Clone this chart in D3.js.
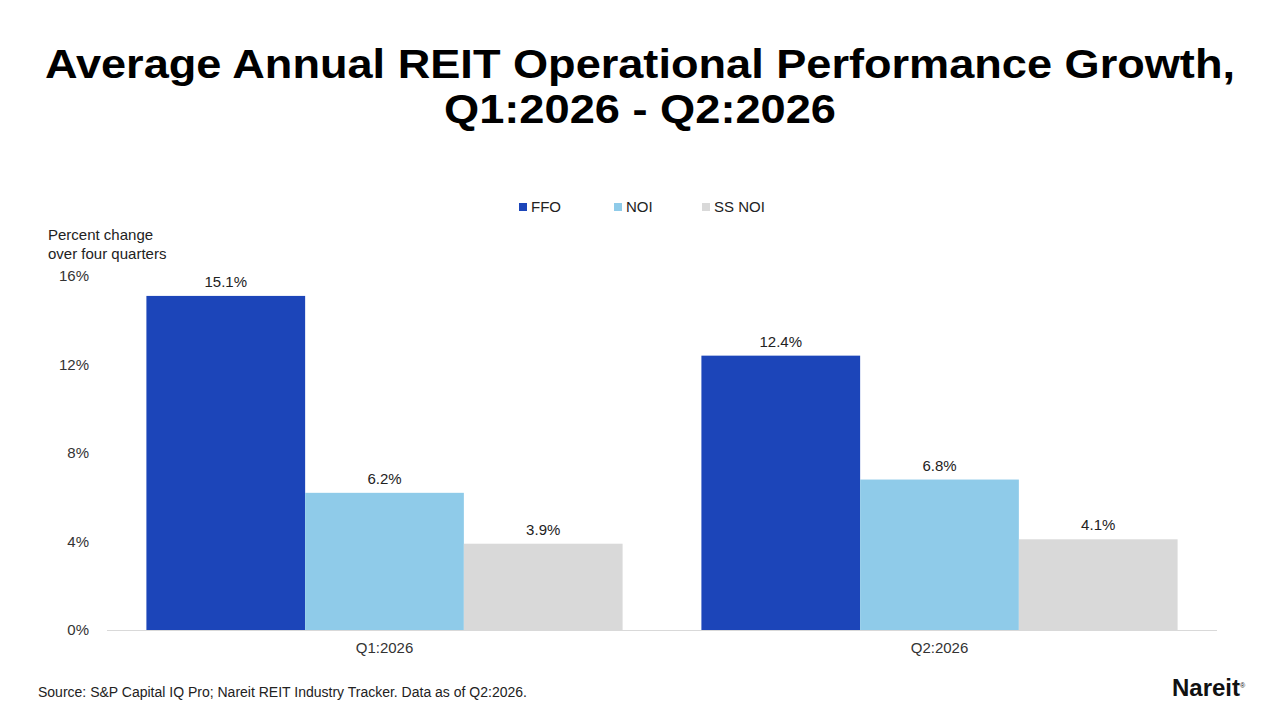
<!DOCTYPE html>
<html><head><meta charset="utf-8">
<script src="https://cdn.jsdelivr.net/npm/d3@7"></script>
<style>body{margin:0;background:#fff}svg{font-family:"Liberation Sans",Arial,sans-serif}</style>
</head><body>
<script>
const quarters = ["Q1:2026", "Q2:2026"];
const seriesNames = ["FFO", "NOI", "SS NOI"];
const ffo = [15.1, 12.4];
const noi = [6.2, 6.8];
const ssNoi = [3.9, 4.1];
const yTicks = [0, 4, 8, 12, 16];
const colors = ["#1c45b9", "#8fcbe9", "#d9d9d9"];

const svg = d3.select("body").append("svg").attr("width", 1280).attr("height", 720);

svg.append("text").attr("x", 640).attr("y", 78).attr("text-anchor", "middle")
  .attr("textLength", 1190).attr("lengthAdjust", "spacingAndGlyphs")
  .style("font-size", "40px").style("font-weight", "900")
  .text("Average Annual REIT Operational Performance Growth,");
svg.append("text").attr("x", 640).attr("y", 123).attr("text-anchor", "middle")
  .attr("textLength", 392).attr("lengthAdjust", "spacingAndGlyphs")
  .style("font-size", "40px").style("font-weight", "900")
  .text("Q1:2026 - Q2:2026");

const x0 = d3.scaleBand().domain(quarters).range([107, 1217]).paddingInner(0.142).paddingOuter(0.071);
const x1 = d3.scaleBand().domain(seriesNames).range([0, x0.bandwidth()]);
const y = d3.scaleLinear().domain([0, 16]).range([630, 276]);

const data = quarters.map((q, i) => ({q, vals: [ffo[i], noi[i], ssNoi[i]]}));

const g = svg.append("g");
g.selectAll("g.grp").data(data).enter().append("g")
  .attr("transform", d => `translate(${x0(d.q)},0)`)
  .each(function(d) {
    const s = d3.select(this);
    s.selectAll("rect").data(d.vals).enter().append("rect")
      .attr("x", (v, j) => x1(seriesNames[j])).attr("width", x1.bandwidth())
      .attr("y", v => y(v)).attr("height", v => y(0) - y(v))
      .attr("fill", (v, j) => colors[j]);
    s.selectAll("text").data(d.vals).enter().append("text")
      .attr("x", (v, j) => x1(seriesNames[j]) + x1.bandwidth() / 2)
      .attr("y", v => y(v) - 9).attr("text-anchor", "middle")
      .style("font-size", "15px").attr("fill", "#222").text(v => v.toFixed(1) + "%");
  });

svg.append("line").attr("x1", 107).attr("x2", 1217).attr("y1", 630.5).attr("y2", 630.5).attr("stroke", "#d9d9d9");

const yAxis = svg.append("g").attr("transform", "translate(92,0)")
  .call(d3.axisLeft(y).tickValues(yTicks).tickFormat(d => d + "%").tickSize(0));
yAxis.select(".domain").remove();
yAxis.selectAll("text").style("font-size", "15px").attr("fill", "#333").style("font-family", "Liberation Sans, Arial");

const xAxis = svg.append("g").attr("transform", "translate(0,630)")
  .call(d3.axisBottom(x0).tickSize(0).tickPadding(12));
xAxis.select(".domain").remove();
xAxis.selectAll("text").style("font-size", "15px").attr("fill", "#333").style("font-family", "Liberation Sans, Arial");

svg.append("text").attr("x", 48).attr("y", 240).style("font-size", "15px").attr("fill", "#222").text("Percent change");
svg.append("text").attr("x", 48).attr("y", 259).style("font-size", "15px").attr("fill", "#222").text("over four quarters");

const legX = [519, 614, 702];
const leg = svg.selectAll("g.leg").data(seriesNames).enter().append("g")
  .attr("transform", (d, i) => `translate(${legX[i]},203)`);
leg.append("rect").attr("width", 8).attr("height", 8).attr("fill", (d, i) => colors[i]);
leg.append("text").attr("x", 12).attr("y", 9).style("font-size", "15px").attr("fill", "#222").text(d => d);

svg.append("text").attr("x", 38).attr("y", 697).style("font-size", "14px").attr("fill", "#222")
  .text("Source: S&P Capital IQ Pro; Nareit REIT Industry Tracker. Data as of Q2:2026.");
svg.append("text").attr("x", 1240).attr("y", 696).attr("text-anchor", "end")
  .style("font-size", "24px").style("font-weight", "900").attr("fill", "#111").text("Nareit");
svg.append("text").attr("x", 1240).attr("y", 688).style("font-size", "7px").attr("fill", "#111").text("®");
</script>
</body></html>
